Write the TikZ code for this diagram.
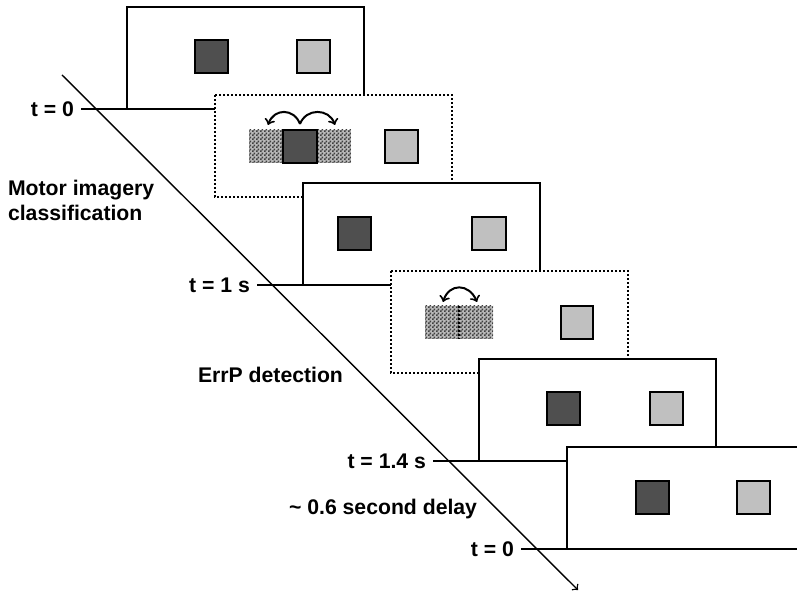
\documentclass[tikz,border=0pt]{standalone}
\usepackage{fontspec}
\setmainfont{Liberation Sans}
\usetikzlibrary{patterns}

\pgfdeclarepatternformonly{finecheck}{\pgfpointorigin}{\pgfqpoint{2pt}{2pt}}{\pgfqpoint{2pt}{2pt}}{%
  \pgfpathrectangle{\pgfpointorigin}{\pgfqpoint{1pt}{1pt}}%
  \pgfpathrectangle{\pgfqpoint{1pt}{1pt}}{\pgfqpoint{1pt}{1pt}}%
  \pgfusepath{fill}}
\definecolor{darkbox}{HTML}{4F4F4F}
\definecolor{lightbox}{HTML}{C0C0C0}

\begin{document}
\begin{tikzpicture}[x=0.5pt, y=-0.5pt,
  screen/.style={draw, line width=1pt, fill=white},
  dotscreen/.style={screen, line width=1.2pt, dash pattern=on 1pt off 1pt},
  target/.style={draw, line width=1pt},
  checker/.style={fill=gray!55, postaction={pattern=finecheck, pattern color=black!75}},
  timetext/.style={font=\bfseries\fontsize{10.6}{12.5}\selectfont},
  movearc/.style={line width=1pt}]
\clip (0,0) rectangle (797,592);

% screen 1
\begin{scope}[shift={(127,7)}]
\draw[screen] (0,0) rectangle (237,102);
\draw[target, fill=darkbox] (68,33) rectangle (101,66);
\draw[target, fill=lightbox] (170,33) rectangle (203,66);
\coordinate (s1) at (0,102);
\end{scope}
\node[timetext, anchor=east] (tzero) at (81,109) {t = 0};
\draw[line width=1pt] (tzero.east) -- (s1);

% screen 2 (feedback moving)
\begin{scope}[shift={(215,95)}]
\draw[dotscreen] (0,0) rectangle (237,102);
\fill[checker] (34,35) rectangle (136,68);
\draw[target, fill=darkbox] (68,35) rectangle (102,68);
\draw[target, fill=lightbox] (170,35) rectangle (203,68);
\draw[movearc, ->] (85,29) .. controls (79,13) and (59,13) .. (53,30);
\draw[movearc, ->] (85,29) .. controls (91,13) and (114,13) .. (120,30);
\end{scope}

% screen 3
\begin{scope}[shift={(303,183)}]
\draw[screen] (0,0) rectangle (237,102);
\draw[target, fill=darkbox] (35,34) rectangle (68,67);
\draw[target, fill=lightbox] (169,34) rectangle (203,67);
\coordinate (s3) at (0,102);
\end{scope}
\node[timetext, anchor=east] (tone) at (257,285) {t = 1 s};
\draw[line width=1pt] (tone.east) -- (s3);

% screen 4 (feedback moving)
\begin{scope}[shift={(391,271)}]
\draw[dotscreen] (0,0) rectangle (237,102);
\fill[checker] (34,35) rectangle (102,68);
\draw[line width=1pt, dash pattern=on 1pt off 1pt] (68,35) -- (68,68);
\draw[target, fill=lightbox] (170,35) rectangle (202,68);
\draw[movearc, <->] (52,31) .. controls (58,12) and (78,12) .. (86,31);
\end{scope}

% screen 5
\begin{scope}[shift={(479,359)}]
\draw[screen] (0,0) rectangle (237,102);
\draw[target, fill=darkbox] (68,33) rectangle (101,66);
\draw[target, fill=lightbox] (171,33) rectangle (204,66);
\coordinate (s5) at (0,102);
\end{scope}
\node[timetext, anchor=east] (tonefour) at (433,461) {t = 1.4 s};
\draw[line width=1pt] (tonefour.east) -- (s5);

% screen 6
\begin{scope}[shift={(567,447)}]
\draw[screen] (0,0) rectangle (237,102);
\draw[target, fill=darkbox] (69,34) rectangle (102,67);
\draw[target, fill=lightbox] (170,34) rectangle (203,67);
\coordinate (s6) at (0,102);
\end{scope}
\node[timetext, anchor=east] (tzerob) at (521,549) {t = 0};
\draw[line width=1pt] (tzerob.east) -- (s6);

% phase labels
\node[timetext, anchor=west, align=left] (mi) at (1,200) {Motor imagery\\classification};
\node[timetext, anchor=west] (errp) at (191,375) {ErrP detection};
\node[timetext, anchor=west] (delay) at (282,509) {\textasciitilde{} 0.6 second delay};

% time axis
\coordinate (tstart) at (62,75);
\coordinate (tend) at (578,590);
\draw[line width=0.7pt, ->] (tstart) -- (tend);
\end{tikzpicture}
\end{document}
